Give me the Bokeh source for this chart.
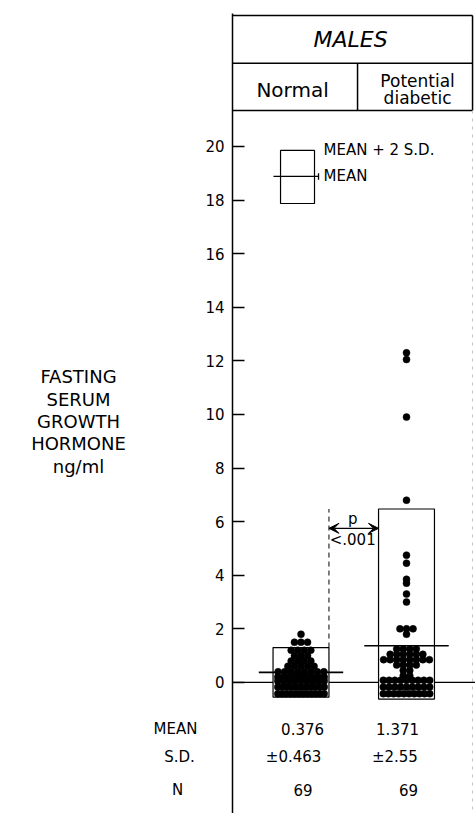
import math

from bokeh.core.properties import value
from bokeh.embed import file_html
from bokeh.layouts import row
from bokeh.models import Arrow, FixedTicker, Range1d, VeeHead
from bokeh.plotting import figure
from bokeh.resources import INLINE

# Fasting serum growth hormone, ng/ml, males (one value per subject)
normal_gh = [
    1.8,
    1.5, 1.5, 1.5,
    1.2, 1.2, 1.2, 1.2,
    1.0, 1.0, 1.0,
    0.8, 0.8, 0.8, 0.8,
    0.6, 0.6, 0.6, 0.6, 0.6,
    0.4, 0.4, 0.4, 0.4, 0.4, 0.4, 0.4, 0.4,
    0.2, 0.2, 0.2, 0.2, 0.2, 0.2, 0.2, 0.2, 0.2,
    0.05, 0.05, 0.05, 0.05, 0.05, 0.05, 0.05, 0.05, 0.05,
    0, 0, 0, 0, 0, 0, 0, 0, 0, 0, 0, 0,
    0, 0, 0, 0, 0, 0, 0, 0, 0, 0, 0,
]
diabetic_gh = [
    12.3, 12.05, 9.9, 6.8,
    4.75, 4.45, 3.85, 3.7, 3.3, 3.0,
    2.0, 2.0, 2.0, 1.8,
    1.25, 1.25, 1.25, 1.25,
    1.05, 1.05, 1.05, 1.05, 1.05, 1.05,
    0.85, 0.85, 0.85, 0.85, 0.85, 0.85, 0.85, 0.85,
    0.65, 0.65, 0.65, 0.65,
    0.45, 0.45,
    0.25, 0.25,
    0.15,
    0, 0, 0, 0, 0, 0, 0, 0, 0, 0, 0, 0, 0, 0,
    0, 0, 0, 0, 0, 0, 0, 0, 0, 0, 0, 0, 0, 0,
]

groups = ["Normal", "Potential\ndiabetic"]
group_values = [normal_gh, diabetic_gh]
group_means = [0.376, 1.371]
group_sds = [0.463, 2.55]
group_n = [69, 69]
y_ticks = [0, 2, 4, 6, 8, 10, 12, 14, 16, 18, 20]
stat_names = ["MEAN", "S.D.", "N"]
quantity_lines = ["FASTING", "SERUM", "GROWTH", "HORMONE", "ng/ml"]
p_label = "<.001"

FONT = "DejaVu Sans"
GROUP_X = [1, 2]
BOX_HALF = 0.265      # half width of the mean +/- 2 S.D. boxes
MEAN_HALF = 0.40      # half length of the mean bars
BOX_FLOOR = -0.62     # boxes stop just under the stack of undetectable values
DOT_SIZE = 7
DOT_STEP = 0.062
SPREAD = 0.44
ZERO_BASE = -0.42
ZERO_STEP = 0.25
ROW_CAP = 12
X_LEFT, X_RIGHT = 0.3507, 2.654
Y_BOTTOM, Y_TOP = -4.89, 24.96
HEAD_TOP, HEAD_MID, HEAD_BOT = 24.89, 23.10, 21.34
RIGHT_EDGE = 2.626
LEFT_W = 201          # width of the text column left of the axis
AXIS_X = 232          # pixel position of the value axis
STAT_Y = [-1.72, -2.80, -4.03]


def dot_layout(vals, center):
    """Spread equal values side by side; stack undetectable ones in rows below zero."""
    xs, ys = [], []
    for v in sorted(set(v for v in vals if v > 0)):
        n = vals.count(v)
        step = min(DOT_STEP, SPREAD / max(n - 1, 1))
        for k in range(n):
            xs.append(center + (k - (n - 1) / 2) * step)
            ys.append(v)
    nz = vals.count(0)
    nrows = math.ceil(nz / ROW_CAP)
    sizes = [nz // nrows + (1 if i < nz % nrows else 0) for i in range(nrows)]
    for i, n in enumerate(sizes):
        step = SPREAD / max(n - 1, 1)
        for k in range(n):
            xs.append(center + (k - (n - 1) / 2) * step)
            ys.append(ZERO_BASE + i * ZERO_STEP)
    return xs, ys


y_range = Range1d(Y_BOTTOM, Y_TOP)


def bare(fig):
    fig.outline_line_color = None
    fig.xgrid.visible = False
    fig.ygrid.visible = False
    fig.background_fill_color = "white"
    fig.border_fill_color = "white"


# text column: quantity name and row titles of the statistics
lab = figure(
    width=LEFT_W, height=813, x_range=Range1d(0, LEFT_W), y_range=y_range,
    output_backend="svg", toolbar_location=None,
    x_axis_location=None, y_axis_location=None,
    min_border_left=0, min_border_right=0, min_border_top=13, min_border_bottom=0,
)
bare(lab)
lab.text(x=[78] * 5, y=[11.42, 10.56, 9.74, 8.92, 8.06], text=quantity_lines,
         text_font=value(FONT), text_font_size="18px", text_align="center",
         text_baseline="middle", text_color="black")
lab.text(x=[175, 179, 177], y=STAT_Y, text=stat_names, text_font=value(FONT),
         text_font_size="15px", text_align="center", text_baseline="middle",
         text_color="black")

p = figure(
    width=475 - LEFT_W, height=813,
    x_range=Range1d(X_LEFT, X_RIGHT), y_range=y_range,
    output_backend="svg", toolbar_location=None,
    x_axis_location=None, y_axis_location="left",
    min_border_left=AXIS_X - LEFT_W, min_border_right=0,
    min_border_top=13, min_border_bottom=0,
)
bare(p)

ax = p.yaxis[0]
ax.ticker = FixedTicker(ticks=y_ticks)
ax.major_tick_in = 12
ax.major_tick_out = 0
ax.minor_tick_line_color = None
ax.axis_line_width = 1.5
ax.major_tick_line_width = 1.5
ax.axis_line_color = "black"
ax.major_tick_line_color = "black"
ax.major_label_standoff = 8
ax.major_label_text_font = FONT
ax.major_label_text_font_size = "15px"
ax.major_label_text_color = "black"

# header table
p.segment(x0=[X_LEFT, X_LEFT, X_LEFT], x1=[RIGHT_EDGE] * 3,
          y0=[HEAD_TOP, HEAD_MID, HEAD_BOT], y1=[HEAD_TOP, HEAD_MID, HEAD_BOT],
          line_color="black", line_width=1.5)
p.segment(x0=[1.536, RIGHT_EDGE], x1=[1.536, RIGHT_EDGE],
          y0=[HEAD_MID, HEAD_TOP], y1=[HEAD_BOT, HEAD_BOT],
          line_color="black", line_width=1.5)
p.segment(x0=[RIGHT_EDGE], x1=[RIGHT_EDGE], y0=[HEAD_BOT], y1=[Y_BOTTOM],
          line_color="#c4c4c4", line_width=1, line_dash="3 5")
p.text(x=[1.47], y=[23.99], text=["MALES"], text_font=value(FONT),
       text_font_size="22px", text_font_style="italic",
       text_align="center", text_baseline="middle", text_color="black")
p.text(x=[0.92], y=[22.09], text=[groups[0]], text_font=value(FONT),
       text_font_size="20px", text_align="center", text_baseline="middle",
       text_color="black")
p.text(x=[2.105, 2.105], y=[22.46, 21.79], text=groups[1].split("\n"),
       text_font=value(FONT), text_font_size="17px", text_align="center",
       text_baseline="middle", text_color="black")

# zero reference line
p.segment(x0=[X_LEFT], x1=[X_RIGHT], y0=[0], y1=[0], line_color="black", line_width=1.3)

# mean +/- 2 S.D. boxes and mean bars
tops = [m + 2 * s for m, s in zip(group_means, group_sds)]
bottoms = [max(m - 2 * s, BOX_FLOOR) for m, s in zip(group_means, group_sds)]
p.quad(left=[g - BOX_HALF for g in GROUP_X], right=[g + BOX_HALF for g in GROUP_X],
       bottom=bottoms, top=tops, fill_color="white", line_color="black", line_width=1.2)

for g, vals in zip(GROUP_X, group_values):
    xs, ys = dot_layout(vals, g)
    p.scatter(xs, ys, size=DOT_SIZE, fill_color="black", line_color="black",
              line_width=0.5)

p.segment(x0=[g - MEAN_HALF for g in GROUP_X], x1=[g + MEAN_HALF for g in GROUP_X],
          y0=group_means, y1=group_means, line_color="black", line_width=1.6)

# significance bracket between the groups
xa, xb = GROUP_X[0] + BOX_HALF, GROUP_X[1] - BOX_HALF
p.segment(x0=[xa], x1=[xa], y0=[tops[0]], y1=[tops[1]], line_color="black",
          line_width=1, line_dash="5 4")
p.add_layout(Arrow(x_start=xa, y_start=5.75, x_end=xb, y_end=5.75,
                   line_color="black", line_width=1.3,
                   start=VeeHead(size=10, fill_color="black", line_color="black"),
                   end=VeeHead(size=10, fill_color="black", line_color="black")))
p.text(x=[1.49, 1.49], y=[6.1, 5.3], text=["p", p_label], text_font=value(FONT),
       text_font_size="15px", text_align="center", text_baseline="middle",
       text_color="black")

# key
p.quad(left=[0.806], right=[1.128], bottom=[17.87], top=[19.85],
       fill_color="white", line_color="black", line_width=1.2)
p.segment(x0=[0.739, 1.166], x1=[1.166, 1.166], y0=[18.88, 18.76], y1=[18.88, 19.0],
          line_color="black", line_width=1.3)
p.text(x=[1.213, 1.213], y=[19.85, 18.88], text=["MEAN + 2 S.D.", "MEAN"],
       text_font=value(FONT), text_font_size="15px", text_align="left",
       text_baseline="middle", text_color="black")

# summary statistics under each group
stat_dx = [[0.015, -0.07, 0.02], [-0.085, -0.11, 0.02]]
for g, m, s, n, dx in zip(GROUP_X, group_means, group_sds, group_n, stat_dx):
    p.text(x=[g + d for d in dx], y=STAT_Y,
           text=[f"{m:.3f}", f"\u00b1{s}", f"{n}"], text_font=value(FONT),
           text_font_size="15px", text_align="center", text_baseline="middle",
           text_color="black")

layout = row(lab, p, spacing=0)
open("out.html", "w").write(file_html(layout, INLINE))
